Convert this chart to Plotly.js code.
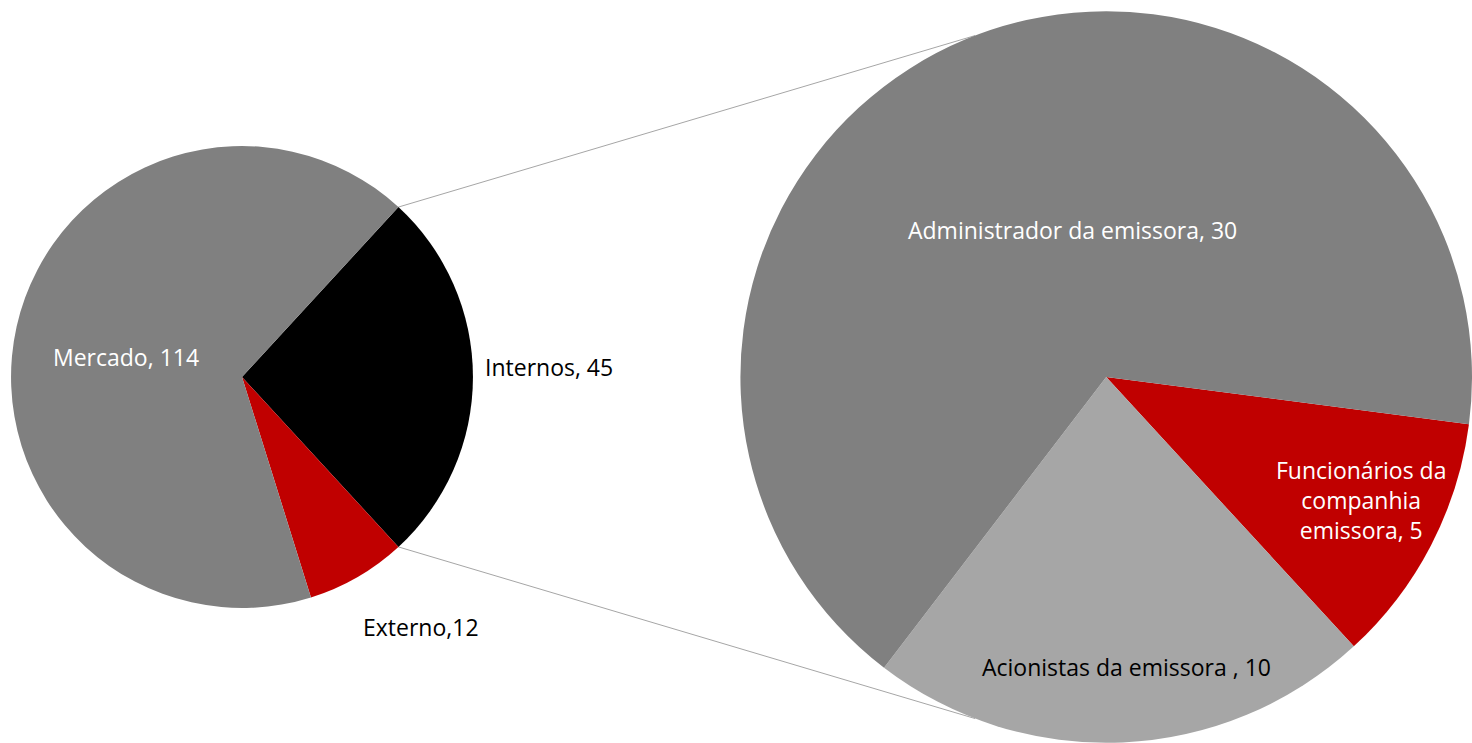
<!DOCTYPE html>
<html><head><meta charset="utf-8">
<script src="https://cdn.plot.ly/plotly-3.0.1.min.js"></script>
<style>html,body{margin:0;padding:0;background:#fff}#chart{width:1472px;height:743px}</style>
</head><body><div id="chart"></div>
<script>
// ---- data ----
const mainLabels = ['Internos', 'Externo', 'Mercado'];
const mainValues = [45, 12, 114];
const mainColors = ['#000000', '#C00000', '#808080'];

const subLabels = ['Funcionários da companhia emissora', 'Acionistas da emissora', 'Administrador da emissora'];
const subValues = [5, 10, 30];
const subColors = ['#C00000', '#A6A6A6', '#808080'];

const labelTexts = ['Mercado, 114', 'Internos, 45', 'Externo,12',
  'Administrador da emissora, 30', 'Funcionários da<br>companhia<br>emissora, 5', 'Acionistas da emissora , 10'];
const labelColors = ['#FFFFFF', '#000000', '#000000', '#FFFFFF', '#FFFFFF', '#000000'];

// ---- layout geometry ----
const W = 1472, H = 743;
const leftDom = {x: [0.0075, 0.3213], y: [0.1817, 0.8035]};
const rightDom = {x: [0.503, 1.0], y: [0, 0.985]};
const mainTotal = mainValues.reduce((a, b) => a + b, 0);
const mainRot = 90 - 180 * mainValues[0] / mainTotal;   // Internos slice centred on the right
const subRot = 97.4;

function geom(d) {
  const w = (d.x[1] - d.x[0]) * W, h = (d.y[1] - d.y[0]) * H;
  return {cx: (d.x[0] + d.x[1]) / 2 * W, cy: H - (d.y[0] + d.y[1]) / 2 * H, r: Math.min(w, h) / 2};
}
function pt(g, deg) {
  const a = deg * Math.PI / 180;
  return [g.cx + g.r * Math.sin(a), g.cy - g.r * Math.cos(a)];
}
const px = (x) => x / W, py = (y) => 1 - y / H;

const gL = geom(leftDom), gR = geom(rightDom);
const a1 = mainRot, a2 = mainRot + 360 * mainValues[0] / mainTotal;
const pL1 = pt(gL, a1), pL2 = pt(gL, a2);
const pR1 = pt(gR, 339), pR2 = pt(gR, 201);

const shapes = [[pL1, pR1], [pL2, pR2]].map(([p, q]) => ({
  type: 'line', xref: 'paper', yref: 'paper', layer: 'below',
  x0: px(p[0]), y0: py(p[1]), x1: px(q[0]), y1: py(q[1]),
  line: {color: '#A6A6A6', width: 1}
}));

const labelPos = [[126, 357], [549, 367], [421, 627], [1072, 230], [1361, 500], [1126, 667]];
const annotations = labelTexts.map((t, i) => ({
  text: t, xref: 'paper', yref: 'paper', x: px(labelPos[i][0]), y: py(labelPos[i][1]),
  xanchor: 'center', yanchor: 'middle', showarrow: false, align: 'center',
  font: {family: 'Open Sans, sans-serif', size: 23, color: labelColors[i]}
}));

const traces = [
  {type: 'pie', labels: mainLabels, values: mainValues, marker: {colors: mainColors, line: {width: 0}},
   sort: false, direction: 'clockwise', rotation: mainRot, textinfo: 'none', domain: leftDom,
   hoverinfo: 'label+value', showlegend: false},
  {type: 'pie', labels: subLabels, values: subValues, marker: {colors: subColors, line: {width: 0}},
   sort: false, direction: 'clockwise', rotation: subRot, textinfo: 'none', domain: rightDom,
   hoverinfo: 'label+value', showlegend: false}
];

Plotly.newPlot('chart', traces, {
  width: W, height: H, margin: {l: 0, r: 0, t: 0, b: 0},
  paper_bgcolor: '#FFFFFF', showlegend: false,
  font: {family: 'Open Sans, sans-serif'},
  shapes: shapes, annotations: annotations
}, {displayModeBar: false, staticPlot: true});
</script>
</body></html>
